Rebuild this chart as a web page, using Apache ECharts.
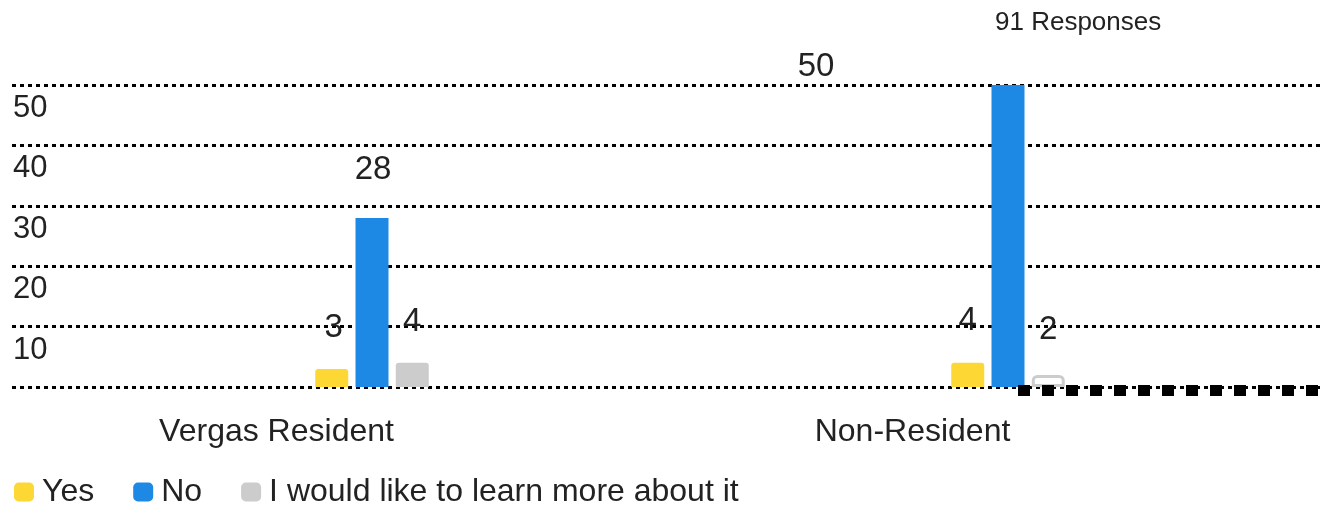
<!DOCTYPE html>
<html>
<head>
<meta charset="utf-8">
<script src="https://cdn.jsdelivr.net/npm/echarts@6/dist/echarts.min.js"></script>
<style>
  html, body { margin: 0; padding: 0; background: #fff; }
  #chart { width: 1329px; height: 506px; }
</style>
</head>
<body>
<div id="chart"></div>
<script>
// Survey answers by residency
const categories = ['Vergas Resident', 'Non-Resident'];
const seriesNames = ['Yes', 'No', 'I would like to learn more about it'];
const yesValues = [3, 4];
const noValues = [28, 50];
const learnMoreValues = [4, 2];
const yTicks = [0, 10, 20, 30, 40, 50];
const titleText = '91 Responses';

const FONT = "'Liberation Sans', Arial, sans-serif";
const TEXT = '#222222';
const colors = ['#FDD835', '#1E88E5', '#CCCCCC'];

// label nudges per bar [dx, dy]
const labelNudge = [
  [[2, -19], [0, -20]],
  [[1, -26], [-192, 3]],
  [[0, -19], [0, -24]]
];

function buildItems(values, sIdx) {
  return values.map((v, i) => {
    const item = {
      value: v,
      label: { offset: labelNudge[sIdx][i] }
    };
    // the smallest "learn more" bar is drawn as an outline only
    if (sIdx === 2 && i === 1) {
      item.itemStyle = { color: 'rgba(0,0,0,0)', borderColor: '#CCCCCC', borderWidth: 3, borderRadius: [4, 4, 0, 0] };
    }
    return item;
  });
}

const valueSets = [yesValues, noValues, learnMoreValues];
const yMax = yTicks[yTicks.length - 1];
const yStep = yTicks[1] - yTicks[0];

const chart = echarts.init(document.getElementById('chart'), null, { renderer: 'canvas' });

chart.setOption({
  animation: false,
  textStyle: { fontFamily: FONT },
  title: {
    text: titleText,
    left: 990,
    top: 5,
    textStyle: { fontSize: 26, fontWeight: 'normal', color: TEXT, fontFamily: FONT }
  },
  legend: {
    data: seriesNames,
    left: 9,
    top: 471,
    icon: 'roundRect',
    itemWidth: 20,
    itemHeight: 19,
    itemGap: 39,
    textStyle: { fontSize: 32, color: TEXT, fontFamily: FONT, padding: [0, 0, 0, 3] }
  },
  grid: [
    // gridline frame
    { left: 12, right: 9, top: 85, bottom: 119, containLabel: false },
    // bar area
    { left: 54, right: 3, top: 85, bottom: 119, containLabel: false }
  ],
  xAxis: [
    { gridIndex: 0, type: 'value', show: false, min: 0, max: 1 },
    {
      gridIndex: 1,
      type: 'category',
      data: categories,
      axisLine: { show: false },
      axisTick: { show: false },
      axisLabel: {
        fontSize: 32,
        color: TEXT,
        fontFamily: FONT,
        margin: 29,
        lineHeight: 32,
        padding: [0, 191, 0, 0]
      }
    }
  ],
  yAxis: [
    {
      gridIndex: 0,
      type: 'value',
      min: 0,
      max: yMax,
      interval: yStep,
      axisLine: { show: false },
      axisTick: { show: false },
      axisLabel: {
        inside: true,
        showMinLabel: false,
        margin: 1,
        fontSize: 31,
        color: TEXT,
        fontFamily: FONT,
        verticalAlign: 'top',
        lineHeight: 31,
        padding: [8, 0, 0, 0]
      },
      splitLine: {
        show: true,
        lineStyle: { color: '#000', width: 3, type: [4, 4] }
      }
    },
    { gridIndex: 1, type: 'value', min: 0, max: yMax, interval: yStep, show: false, splitLine: { show: false } }
  ],
  series: seriesNames.map((name, sIdx) => ({
    name: name,
    type: 'bar',
    xAxisIndex: 1,
    yAxisIndex: 1,
    barWidth: 33,
    barGap: '22%',
    itemStyle: {
      color: colors[sIdx],
      borderRadius: sIdx === 1 ? 0 : [3, 3, 0, 0]
    },
    label: {
      show: true,
      position: 'top',
      distance: 5,
      fontSize: 33,
      color: TEXT,
      fontFamily: FONT
    },
    data: buildItems(valueSets[sIdx], sIdx)
  })),
  graphic: [
    {
      type: 'line',
      silent: true,
      z: 100,
      shape: { x1: 1018, y1: 390.5, x2: 1320, y2: 390.5 },
      style: { stroke: '#000', lineWidth: 11, lineDash: [12, 12] }
    }
  ]
});
</script>
</body>
</html>
